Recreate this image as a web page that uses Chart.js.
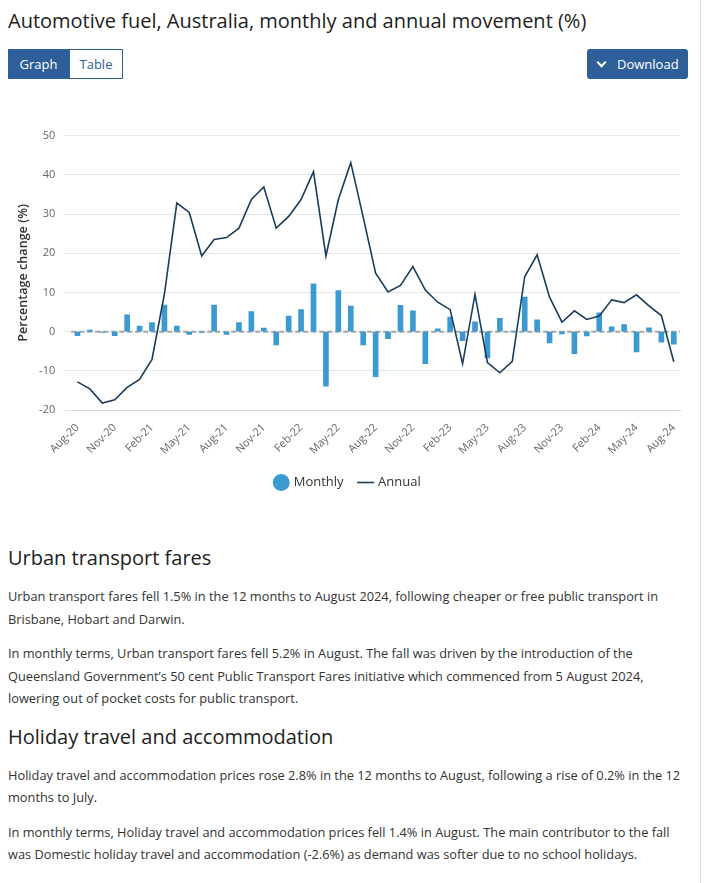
<!DOCTYPE html>
<html>
<head>
<meta charset="utf-8">
<script src="https://cdn.jsdelivr.net/npm/chart.js@4"></script>
<style>
  html, body { margin: 0; padding: 0; background: #fff; }
  body { font-family: "Open Sans", sans-serif; color: #222; width: 704px; height: 883px; overflow: hidden; }
  .page { position: relative; width: 700px; height: 883px; border-right: 1px solid #ddd; }
  h2.title { position: absolute; left: 8px; top: 7px; margin: 0; font-size: 20px; font-weight: 400; color: #222; }
  .tabs { position: absolute; left: 8px; top: 49px; display: flex; }
  .tabs span { display: inline-block; height: 28px; line-height: 28px; font-size: 13px; border: 1px solid #2e5f99; }
  .tabs .on { background: #2e5f99; color: #fff; width: 59px; text-align: center; }
  .tabs .off { background: #fff; color: #2e5f99; width: 52px; text-align: center; }
  .dl { position: absolute; left: 587px; top: 49px; width: 101px; height: 30px; line-height: 30px; background: #2e5f99;
        color: #fff; font-size: 13px; border-radius: 3px; }
  .dl i { position: absolute; left: 11px; top: 10px; width: 5px; height: 5px; border-right: 2.5px solid #fff;
          border-bottom: 2.5px solid #fff; transform: rotate(45deg); }
  .dl span { position: absolute; left: 30px; }
  .chartBox { position: absolute; left: 0; top: 121px; width: 700px; height: 378px; }
  .text { position: absolute; left: 8px; top: 543px; width: 680px; }
  .text h3 { margin: 0; font-size: 20px; font-weight: 400; color: #222; line-height: 30px; }
  .text p { margin: 0; font-size: 12.8px; line-height: 22.5px; color: #333; }
</style>
</head>
<body>
<div class="page">
  <h2 class="title">Automotive fuel, Australia, monthly and annual movement (%)</h2>
  <div class="tabs"><span class="on">Graph</span><span class="off">Table</span></div>
  <div class="dl"><i></i><span>Download</span></div>
  <div class="chartBox"><canvas id="fuelChart"></canvas></div>
  <div class="text">
    <h3>Urban transport fares</h3>
    <p style="margin-top:12px">Urban transport fares fell 1.5% in the 12 months to August 2024, following cheaper or free public transport in Brisbane, Hobart and Darwin.</p>
    <p style="margin-top:12px">In monthly terms, Urban transport fares fell 5.2% in August. The fall was driven by the introduction of the Queensland Government’s 50 cent Public Transport Fares initiative which commenced from 5 August 2024, lowering out of pocket costs for public transport.</p>
    <h3 style="margin-top:12px">Holiday travel and accommodation</h3>
    <p style="margin-top:12px">Holiday travel and accommodation prices rose 2.8% in the 12 months to August, following a rise of 0.2% in the 12 months to July.</p>
    <p style="margin-top:12px">In monthly terms, Holiday travel and accommodation prices fell 1.4% in August. The main contributor to the fall was Domestic holiday travel and accommodation (-2.6%) as demand was softer due to no school holidays.</p>
  </div>
</div>
<script>
// months Aug-20 .. Aug-24
const months = [
  "Aug-20","Sep-20","Oct-20","Nov-20","Dec-20","Jan-21","Feb-21","Mar-21","Apr-21","May-21","Jun-21","Jul-21",
  "Aug-21","Sep-21","Oct-21","Nov-21","Dec-21","Jan-22","Feb-22","Mar-22","Apr-22","May-22","Jun-22","Jul-22",
  "Aug-22","Sep-22","Oct-22","Nov-22","Dec-22","Jan-23","Feb-23","Mar-23","Apr-23","May-23","Jun-23","Jul-23",
  "Aug-23","Sep-23","Oct-23","Nov-23","Dec-23","Jan-24","Feb-24","Mar-24","Apr-24","May-24","Jun-24","Jul-24",
  "Aug-24"
];

const monthly = [
  -1.0, 0.4, -0.2, -1.0, 4.3, 1.4, 2.3, 6.8, 1.4, -0.7, -0.2, 6.8,
  -0.7, 2.3, 5.1, 0.9, -3.4, 4.0, 5.6, 12.2, -13.9, 10.5, 6.5, -3.4,
  -11.5, -1.8, 6.7, 5.3, -8.2, 0.7, 3.7, -2.3, 2.5, -6.7, 3.4, 0.1,
  8.8, 3.0, -2.9, -0.6, -5.6, -1.1, 4.8, 1.2, 1.8, -5.2, 1.0, -2.7,
  -3.2
];

const annual = [
  -12.8, -14.6, -18.2, -17.4, -14.2, -12.2, -7.1, 9.6, 32.8, 30.4, 19.3, 23.5,
  24.0, 26.4, 33.7, 36.9, 26.4, 29.4, 33.7, 40.8, 19.3, 33.7, 43.1, 29.2,
  14.9, 10.1, 11.8, 16.6, 10.6, 7.5, 5.6, -8.2, 9.5, -7.9, -10.5, -7.6,
  14.0, 19.6, 8.8, 2.4, 5.3, 3.1, 4.0, 8.1, 7.4, 9.4, 6.6, 4.1,
  -7.7
];

const yTicks = [-20, -10, 0, 10, 20, 30, 40, 50];

// dashed zero line drawn through the y scale
const zeroLine = {
  id: "zeroLine",
  beforeDatasetsDraw(chart) {
    const { ctx, chartArea, scales } = chart;
    const y = scales.y.getPixelForValue(0);
    ctx.save();
    ctx.strokeStyle = "#a6a6a6";
    ctx.lineWidth = 2;
    ctx.setLineDash([5, 3]);
    ctx.beginPath();
    ctx.moveTo(chartArea.left, y);
    ctx.lineTo(chartArea.right, y);
    ctx.stroke();
    ctx.restore();
  }
};

document.addEventListener("DOMContentLoaded", () => {
  const ctx = document.getElementById("fuelChart").getContext("2d");
  new Chart(ctx, {
    type: "bar",
    data: {
      labels: months,
      datasets: [
        {
          type: "line", label: "Annual", data: annual,
          borderColor: "#1b3c5c", backgroundColor: "#1b3c5c",
          borderWidth: 1.6, pointRadius: 0, tension: 0, order: 0,
          pointStyle: "line"
        },
        {
          label: "Monthly", data: monthly,
          backgroundColor: "#3a9ad1", borderWidth: 0,
          barThickness: 5, order: 1, pointStyle: "circle"
        }
      ]
    },
    plugins: [zeroLine],
    options: {
      responsive: true,
      maintainAspectRatio: false,
      animation: false,
      layout: { padding: { left: 16, right: 20, top: 10, bottom: 0 } },
      plugins: {
        tooltip: { enabled: false },
        legend: {
          position: "bottom",
          reverse: true,
          labels: {
            usePointStyle: true,
            boxWidth: 12, boxHeight: 12,
            padding: 16,
            color: "#333",
            font: { family: "Open Sans", size: 13 }
          }
        }
      },
      scales: {
        x: {
          offset: true,
          grid: { display: false },
          border: { color: "#ccd6eb" },
          ticks: {
            autoSkip: false, maxRotation: 45, minRotation: 45,
            color: "#666", font: { family: "Open Sans", size: 11 },
            callback: (v, i) => (i % 3 === 0 ? months[i] : "")
          }
        },
        y: {
          min: yTicks[0], max: yTicks[yTicks.length - 1],
          afterBuildTicks: axis => { axis.ticks = yTicks.map(v => ({ value: v })); },
          grid: { color: "#e6e6e6" },
          border: { display: false },
          ticks: { color: "#666", font: { family: "Open Sans", size: 11 }, padding: 8 },
          title: {
            display: true, text: "Percentage change (%)", color: "#333",
            padding: 0,
            font: { family: "Open Sans", size: 12.6, weight: "600" }
          }
        }
      }
    }
  });
});
</script>
</body>
</html>
